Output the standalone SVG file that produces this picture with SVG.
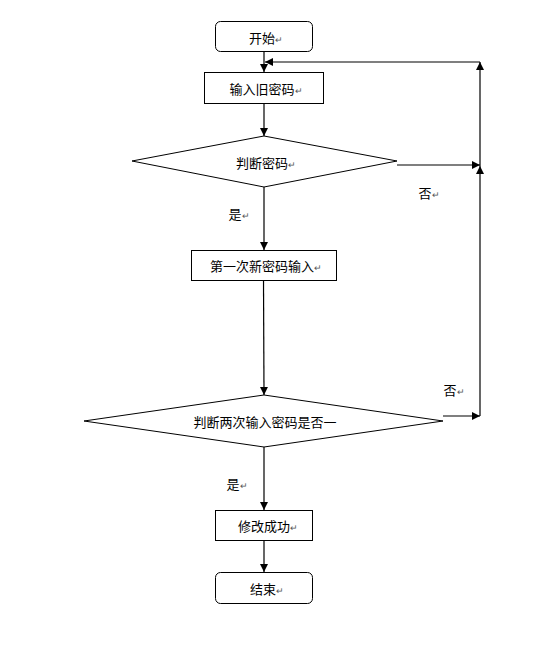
<svg xmlns="http://www.w3.org/2000/svg" width="553" height="656" viewBox="0 0 553 656">
<style>
.box{fill:#fff;stroke:#000;stroke-width:1}
.t{font-family:"Liberation Serif","Noto Sans CJK SC",serif;font-size:13px;fill:#000;text-anchor:middle}
.r{font-size:9px;fill:#555}
.c{fill:none;stroke:#000;stroke-width:1.2}
</style>
<defs>
<marker id="ah" viewBox="0 0 10 10" refX="10" refY="5" markerWidth="8" markerHeight="8" markerUnits="userSpaceOnUse" orient="auto">
<path d="M0,0 L10,5 L0,10 Z" fill="#000"/>
</marker>
</defs>
<rect width="553" height="656" fill="#fff"/>
<g id="connectors">
<line class="c" x1="264" y1="51" x2="264" y2="72" marker-end="url(#ah)"/>
<line class="c" x1="480" y1="62" x2="265" y2="62" marker-end="url(#ah)"/>
<line class="c" x1="480" y1="166" x2="480" y2="62" marker-end="url(#ah)"/>
<line class="c" x1="264" y1="104" x2="264" y2="136" marker-end="url(#ah)"/>
<line class="c" x1="397" y1="165" x2="480" y2="165" marker-end="url(#ah)"/>
<line class="c" x1="480" y1="416" x2="480" y2="166" marker-end="url(#ah)"/>
<line class="c" x1="264" y1="187" x2="264" y2="250" marker-end="url(#ah)"/>
<line class="c" x1="263.5" y1="280" x2="264" y2="395" marker-end="url(#ah)"/>
<line class="c" x1="443" y1="416" x2="480" y2="416" marker-end="url(#ah)"/>
<line class="c" x1="264" y1="447" x2="264" y2="510" marker-end="url(#ah)"/>
<line class="c" x1="264" y1="540" x2="264" y2="572" marker-end="url(#ah)"/>
</g>
<g id="start">
<rect class="box" x="215.5" y="21.5" width="97" height="30" rx="5"/>
<text class="t" x="266" y="43">开始<tspan class="r">↵</tspan></text>
</g>
<g id="input-old">
<rect class="box" x="204.5" y="72.5" width="119" height="31"/>
<text class="t" x="266" y="94">输入旧密码<tspan class="r">↵</tspan></text>
</g>
<g id="check-pwd">
<polygon class="box" points="132,161 264,136 397,161 264,187"/>
<text class="t" x="266" y="168">判断密码<tspan class="r">↵</tspan></text>
</g>
<g id="label-no1"><text class="t" x="429" y="198">否<tspan class="r">↵</tspan></text></g>
<g id="label-yes1"><text class="t" x="239" y="219">是<tspan class="r">↵</tspan></text></g>
<g id="input-new">
<rect class="box" x="191.5" y="250.5" width="145" height="30"/>
<text class="t" x="266" y="271">第一次新密码输入<tspan class="r">↵</tspan></text>
</g>
<g id="check-twice">
<polygon class="box" points="84,421 264,395 443,421 264,447"/>
<text class="t" x="265" y="427">判断两次输入密码是否一</text>
</g>
<g id="label-no2"><text class="t" x="454" y="395">否<tspan class="r">↵</tspan></text></g>
<g id="label-yes2"><text class="t" x="237" y="489">是<tspan class="r">↵</tspan></text></g>
<g id="success">
<rect class="box" x="215.5" y="510.5" width="97" height="30"/>
<text class="t" x="268" y="531">修改成功<tspan class="r">↵</tspan></text>
</g>
<g id="end">
<rect class="box" x="215.5" y="572.5" width="97" height="31" rx="5"/>
<text class="t" x="267" y="594">结束<tspan class="r">↵</tspan></text>
</g>
</svg>
